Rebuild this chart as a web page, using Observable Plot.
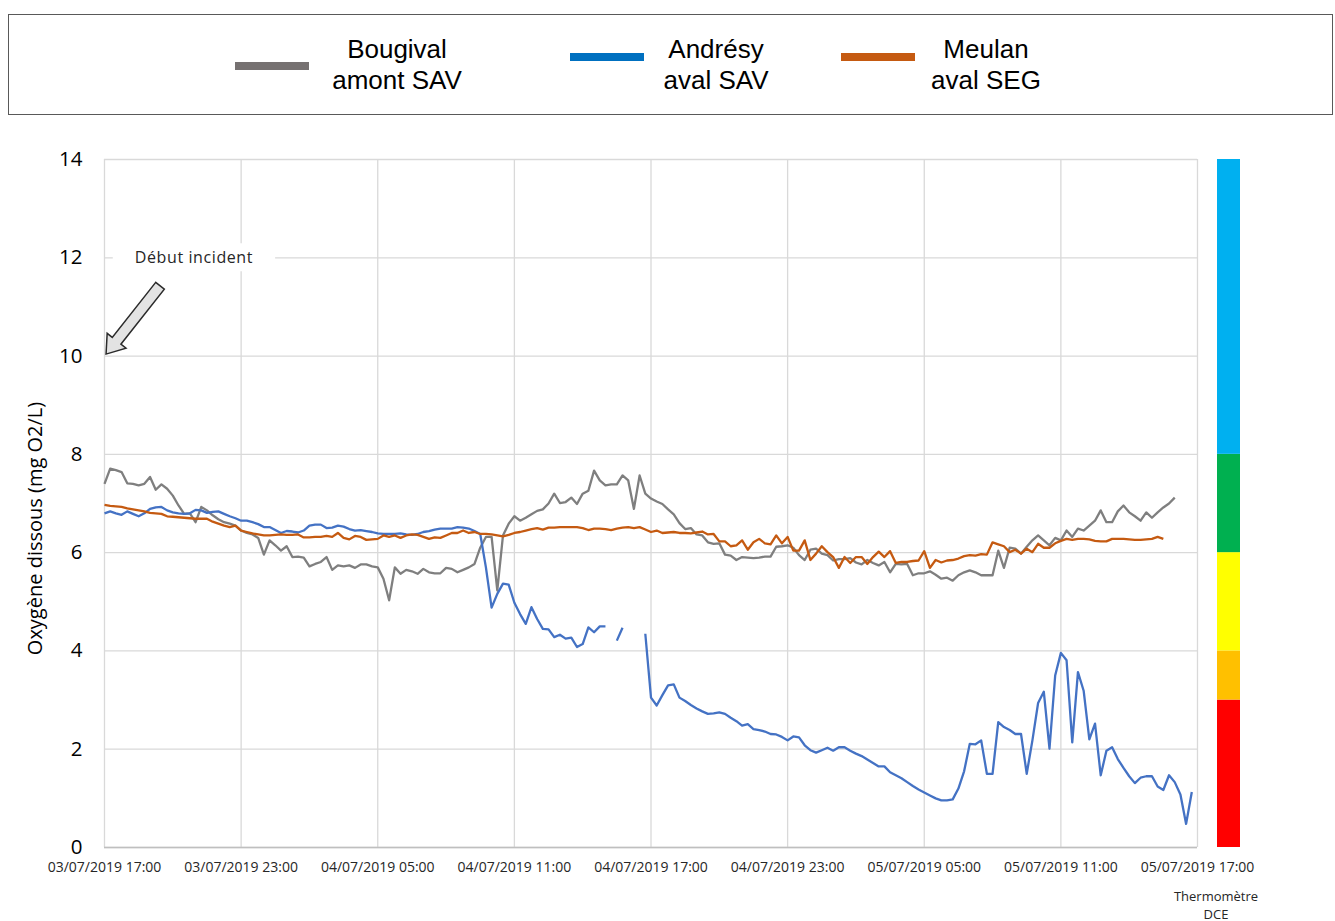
<!DOCTYPE html>
<html>
<head>
<meta charset="utf-8">
<script src="https://cdn.jsdelivr.net/npm/d3@7"></script>
<script src="https://cdn.jsdelivr.net/npm/@observablehq/plot@0.6"></script>
<style>
  body { margin:0; background:#fff; width:1335px; height:921px; position:relative; overflow:hidden; font-family:"Liberation Sans", Arial, sans-serif; }
  #legendBox { position:absolute; left:8px; top:14px; width:1325px; height:101px; border:1px solid #595959; box-sizing:border-box; }
  .sw { position:absolute; height:8px; }
  .lt { position:absolute; transform:translateX(-50%); text-align:center; font-size:26px; line-height:31px; white-space:nowrap; color:#000; }
  #chart { position:absolute; left:0; top:120px; }
  #thermo { position:absolute; left:1214px; top:120px; }
  #thermoLabel { position:absolute; left:1216px; top:887px; transform:translateX(-50%); text-align:center; font-family:"Open Sans", sans-serif; font-size:13px; line-height:18px; color:#262626; white-space:nowrap; }
</style>
</head>
<body>
<div id="legendBox"></div>
<div id="legendItems"></div>
<div id="chart"></div>
<div id="thermo"></div>
<div id="thermoLabel"></div>
<script>
// ---------- data ----------
const seriesNames = ["Bougival amont SAV", "Andrésy aval SAV", "Meulan aval SEG"];
const legendLines = [["Bougival", "amont SAV"], ["Andrésy", "aval SAV"], ["Meulan", "aval SEG"]];
const seriesColors = ["#7f7f7f", "#4472c4", "#c55a11"];
const legendColors = ["#767171", "#0070c0", "#c55a11"];
const startLabel = "03/07/2019 17:00";
const stepMinutes = 15;

// Bougival amont SAV (mg O2/L), one value every 15 min from 03/07/2019 17:00
const bougival = [
  7.40, 7.71, 7.68, 7.64,  7.41, 7.40, 7.37, 7.40,  7.54, 7.28, 7.39, 7.30,  7.16, 6.96, 6.79, 6.80,
  6.62, 6.93, 6.86, 6.76,  6.68, 6.62, 6.59, 6.55,  6.45, 6.40, 6.37, 6.30,  5.96, 6.25, 6.15, 6.04,
  6.13, 5.91, 5.92, 5.90,  5.72, 5.77, 5.81, 5.91,  5.65, 5.74, 5.72, 5.74,  5.69, 5.76, 5.76, 5.72,
  5.70, 5.47, 5.03, 5.70,  5.57, 5.65, 5.62, 5.57,  5.67, 5.60, 5.58, 5.58,  5.69, 5.67, 5.60, 5.65,
  5.70, 5.77, 6.10, 6.32,  6.32, 5.23, 6.35, 6.59,  6.74, 6.65, 6.71, 6.78,  6.85, 6.88, 7.00, 7.20,
  7.01, 7.03, 7.12, 6.99,  7.20, 7.26, 7.67, 7.47,  7.37, 7.39, 7.39, 7.57,  7.47, 6.89, 7.57, 7.20,
  7.10, 7.04, 6.99, 6.88,  6.78, 6.60, 6.48, 6.50,  6.37, 6.35, 6.21, 6.18,  6.19, 5.96, 5.94, 5.85,
  5.91, 5.90, 5.89, 5.90,  5.92, 5.92, 6.12, 6.13,  6.15, 6.10, 5.95, 5.85,  6.06, 6.08, 5.98, 5.95,
  5.84, 5.87, 5.87, 5.89,  5.80, 5.76, 5.85, 5.79,  5.74, 5.81, 5.60, 5.77,  5.76, 5.77, 5.54, 5.58,
  5.58, 5.62, 5.55, 5.47,  5.49, 5.43, 5.54, 5.60,  5.64, 5.60, 5.54, 5.54,  5.54, 6.04, 5.69, 6.10,
  6.08, 5.98, 6.12, 6.25,  6.35, 6.25, 6.15, 6.30,  6.25, 6.45, 6.32, 6.49,  6.45, 6.55, 6.65, 6.86,
  6.62, 6.62, 6.84, 6.96,  6.82, 6.74, 6.65, 6.82,  6.71, 6.82, 6.92, 7.00,  7.12
];

// Andrésy aval SAV (null = no measurement)
const andresy = [
  6.80, 6.84, 6.80, 6.77,  6.84, 6.79, 6.74, 6.80,  6.89, 6.92, 6.93, 6.86,  6.82, 6.80, 6.79, 6.80,
  6.87, 6.86, 6.81, 6.83,  6.84, 6.79, 6.74, 6.70,  6.65, 6.65, 6.62, 6.58,  6.52, 6.52, 6.46, 6.40,
  6.44, 6.43, 6.41, 6.45,  6.55, 6.57, 6.57, 6.50,  6.51, 6.55, 6.53, 6.48,  6.45, 6.46, 6.44, 6.42,
  6.39, 6.38, 6.38, 6.38,  6.39, 6.37, 6.36, 6.38,  6.42, 6.44, 6.47, 6.49,  6.49, 6.49, 6.52, 6.51,
  6.49, 6.44, 6.38, 5.70,  4.88, 5.16, 5.37, 5.35,  4.98, 4.75, 4.55, 4.89,  4.65, 4.45, 4.44, 4.28,
  4.33, 4.25, 4.27, 4.08,  4.14, 4.48, 4.38, 4.50,  4.50, null, 4.21, 4.47,  null, null, null, 4.35,
  3.05, 2.89, 3.10, 3.30,  3.32, 3.05, 2.98, 2.90,  2.83, 2.77, 2.72, 2.73,  2.75, 2.72, 2.64, 2.57,
  2.48, 2.51, 2.41, 2.39,  2.36, 2.31, 2.30, 2.25,  2.18, 2.26, 2.24, 2.08,  1.98, 1.93, 1.98, 2.03,
  1.97, 2.04, 2.04, 1.97,  1.91, 1.86, 1.79, 1.72,  1.65, 1.65, 1.53, 1.47,  1.41, 1.33, 1.25, 1.18,
  1.12, 1.06, 1.00, 0.96,  0.96, 0.98, 1.20, 1.55,  2.11, 2.10, 2.18, 1.50,  1.50, 2.55, 2.45, 2.39,
  2.31, 2.31, 1.50, 2.18,  2.94, 3.17, 2.01, 3.50,  3.96, 3.81, 2.14, 3.57,  3.19, 2.20, 2.52, 1.47,
  1.97, 2.04, 1.80, 1.62,  1.45, 1.31, 1.42, 1.45,  1.45, 1.24, 1.17, 1.47,  1.33, 1.08, 0.48, 1.13
];

// Meulan aval SEG
const meulan = [
  6.97, 6.95, 6.94, 6.93,  6.90, 6.88, 6.86, 6.84,  6.81, 6.80, 6.79, 6.74,  6.73, 6.72, 6.71, 6.70,
  6.69, 6.69, 6.69, 6.63,  6.59, 6.55, 6.52, 6.55,  6.45, 6.42, 6.39, 6.37,  6.35, 6.35, 6.36, 6.37,
  6.36, 6.36, 6.37, 6.31,  6.31, 6.32, 6.32, 6.34,  6.32, 6.40, 6.30, 6.27,  6.34, 6.32, 6.26, 6.27,
  6.28, 6.35, 6.32, 6.35,  6.30, 6.35, 6.37, 6.36,  6.32, 6.28, 6.31, 6.30,  6.35, 6.40, 6.40, 6.45,
  6.40, 6.42, 6.38, 6.38,  6.37, 6.35, 6.33, 6.36,  6.40, 6.42, 6.45, 6.48,  6.50, 6.47, 6.51, 6.51,
  6.52, 6.52, 6.52, 6.52,  6.50, 6.46, 6.49, 6.49,  6.48, 6.46, 6.49, 6.51,  6.52, 6.50, 6.52, 6.47,
  6.42, 6.45, 6.40, 6.41,  6.42, 6.40, 6.40, 6.39,  6.41, 6.43, 6.37, 6.38,  6.23, 6.23, 6.13, 6.15,
  6.25, 6.06, 6.21, 6.28,  6.19, 6.17, 6.35, 6.19,  6.32, 6.04, 6.04, 6.25,  5.85, 5.98, 6.13, 6.01,
  5.91, 5.69, 5.91, 5.79,  5.91, 5.91, 5.77, 5.91,  6.02, 5.91, 6.03, 5.79,  5.81, 5.81, 5.83, 5.84,
  6.03, 5.69, 5.85, 5.80,  5.84, 5.85, 5.88, 5.93,  5.95, 5.94, 5.97, 5.96,  6.21, 6.17, 6.13, 6.01,
  6.06, 5.98, 6.08, 6.01,  6.18, 6.10, 6.10, 6.19,  6.24, 6.28, 6.26, 6.28,  6.28, 6.27, 6.24, 6.23,
  6.23, 6.28, 6.28, 6.28,  6.27, 6.26, 6.26, 6.27,  6.28, 6.32, 6.28
];

const xTickLabels = ["03/07/2019 17:00", "03/07/2019 23:00", "04/07/2019 05:00", "04/07/2019 11:00",
  "04/07/2019 17:00", "04/07/2019 23:00", "05/07/2019 05:00", "05/07/2019 11:00", "05/07/2019 17:00"];
const yTicks = [0, 2, 4, 6, 8, 10, 12, 14];
const yTitle = "Oxygène dissous (mg O2/L)";

// DCE thermometer classes (mg O2/L)
const thermoLower = [0, 3, 4, 6, 8];
const thermoUpper = [3, 4, 6, 8, 14];
const thermoColors = ["#ff0000", "#ffc000", "#ffff00", "#00b050", "#00b0f0"];
const thermoLabel = ["Thermomètre", "DCE"];

// annotation (hours after start, mg O2/L)
const annotationText = "Début incident";
const annotationAt = [3.95, 12];
const arrowTail = [2.46, 11.42];
const arrowTip = [0.09, 10.03];

// ---------- build ----------
const fmt = "%d/%m/%Y %H:%M";
const parse = d3.utcParse(fmt);
const t0 = parse(startLabel);
const hourMs = 3600000;
const toDate = h => new Date(+t0 + h * hourMs);

const rows = [];
[bougival, andresy, meulan].forEach((vals, k) => {
  vals.forEach((v, i) => rows.push({series: seriesNames[k], date: new Date(+t0 + i * stepMinutes * 60000), value: v}));
});
const xTicks = xTickLabels.map(parse);

const plot = Plot.plot({
  width: 1335, height: 801,
  marginTop: 39, marginBottom: 74, marginLeft: 104, marginRight: 138,
  style: {fontFamily: "'Open Sans', sans-serif", background: "transparent", overflow: "visible"},
  x: {type: "utc", domain: [xTicks[0], xTicks[xTicks.length - 1]]},
  y: {domain: [0, 14]},
  color: {domain: seriesNames, range: seriesColors},
  marks: [
    Plot.gridY(yTicks, {stroke: "#d9d9d9", strokeOpacity: 1, strokeWidth: 1.3}),
    Plot.gridX(xTicks, {stroke: "#d9d9d9", strokeOpacity: 1, strokeWidth: 1.3}),
    Plot.ruleY([0], {stroke: "#bfbfbf", strokeWidth: 1.3}),
    Plot.axisY(yTicks, {tickSize: 0, tickPadding: 22, fontSize: 20.5, label: null, fill: "#000"}),
    Plot.axisX(xTicks, {tickSize: 0, tickPadding: 15, fontSize: 14, label: null, fill: "#262626", tickFormat: d3.utcFormat(fmt)}),
    Plot.line(rows, {x: "date", y: "value", z: "series", stroke: "series", strokeWidth: 2.3, strokeLinejoin: "round", strokeLinecap: "butt"}),
    Plot.text([yTitle], {frameAnchor: "left", textAnchor: "middle", rotate: -90, dx: -69, dy: 25, fontSize: 20, fill: "#000", text: d => d})
  ]
});
document.getElementById("chart").appendChild(plot);

// annotation drawn with the plot's own scales
const sx = plot.scale("x"), sy = plot.scale("y");
const svg = d3.select(plot);
const g = svg.append("g").attr("aria-label", "annotation");
const ax = sx.apply(toDate(annotationAt[0])), ay = sy.apply(annotationAt[1]);
const box = g.append("rect").attr("fill", "#fff");
const txt = g.append("text").attr("x", ax).attr("y", ay).attr("text-anchor", "middle").attr("dy", "0.35em")
  .attr("font-family", "'Open Sans', sans-serif").attr("font-size", 16).attr("letter-spacing", "0.6px")
  .attr("fill", "#262626").text(annotationText);
const bb = txt.node().getBBox();
box.attr("x", bb.x - 22).attr("width", bb.width + 44).attr("y", ay - 14).attr("height", 28);

const tail = [sx.apply(toDate(arrowTail[0])), sy.apply(arrowTail[1])];
const tip = [sx.apply(toDate(arrowTip[0])), sy.apply(arrowTip[1])];
const dxv = tip[0] - tail[0], dyv = tip[1] - tail[1];
const len = Math.hypot(dxv, dyv);
const ux = dxv / len, uy = dyv / len, nx = -uy, ny = ux;
const shaftHalf = 5.5, headHalf = 12, headLen = 17;
const neck = [tip[0] - ux * headLen, tip[1] - uy * headLen];
const pts = [
  [tail[0] + nx * shaftHalf, tail[1] + ny * shaftHalf],
  [neck[0] + nx * shaftHalf, neck[1] + ny * shaftHalf],
  [neck[0] + nx * headHalf, neck[1] + ny * headHalf],
  tip,
  [neck[0] - nx * headHalf, neck[1] - ny * headHalf],
  [neck[0] - nx * shaftHalf, neck[1] - ny * shaftHalf],
  [tail[0] - nx * shaftHalf, tail[1] - ny * shaftHalf]
];
g.append("path").attr("d", "M" + pts.map(p => p.join(",")).join("L") + "Z")
  .attr("fill", "#e3e3e3").attr("stroke", "#2b2b2b").attr("stroke-width", 1.5).attr("stroke-linejoin", "miter");

// thermometer
const thermoRows = thermoLower.map((lo, i) => ({lo, hi: thermoUpper[i], color: thermoColors[i]}));
const thermo = Plot.plot({
  width: 29, height: 801, marginTop: 39, marginBottom: 74, marginLeft: 3, marginRight: 3,
  style: {background: "transparent"},
  y: {domain: [0, 14], axis: null},
  color: {type: "identity"},
  marks: [Plot.rect(thermoRows, {y1: "lo", y2: "hi", fill: "color"})]
});
document.getElementById("thermo").appendChild(thermo);
document.getElementById("thermoLabel").innerHTML = thermoLabel.join("<br>");

// legend (HTML)
const legendSwatch = [{x: 235, y: 66}, {x: 570, y: 57}, {x: 841, y: 57}];
const legendTextX = [397, 716, 986];
const items = document.getElementById("legendItems");
seriesNames.forEach((s, i) => {
  const sw = document.createElement("div");
  sw.className = "sw";
  sw.style.left = legendSwatch[i].x + "px";
  sw.style.top = (legendSwatch[i].y - 4) + "px";
  sw.style.width = "74px";
  sw.style.background = legendColors[i];
  items.appendChild(sw);
  const t = document.createElement("div");
  t.className = "lt";
  t.style.left = legendTextX[i] + "px";
  t.style.top = "34px";
  t.innerHTML = legendLines[i].join("<br>");
  items.appendChild(t);
});
</script>
</body>
</html>
